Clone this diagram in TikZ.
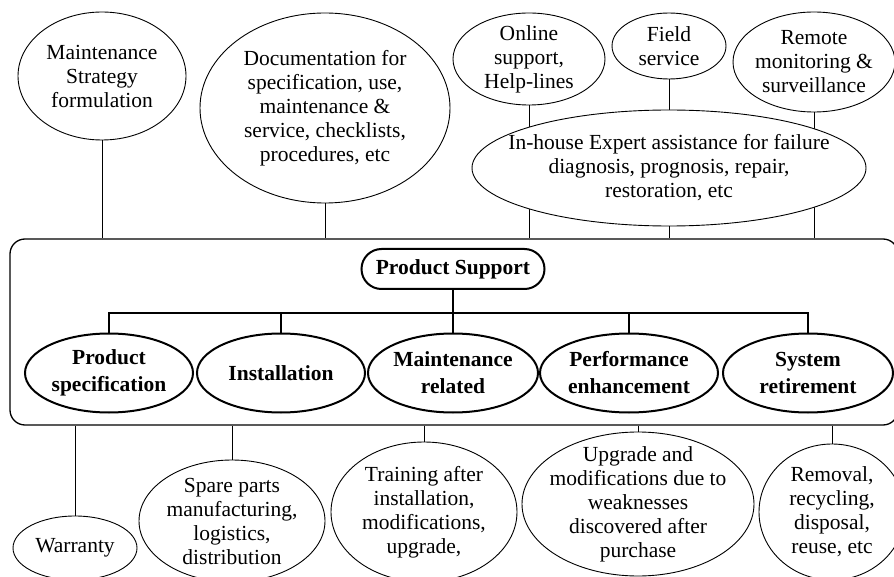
\documentclass[tikz,border=0pt]{standalone}
\usepackage{fontspec}
\setmainfont{Liberation Serif}
\usetikzlibrary{shapes.geometric,backgrounds}
\begin{document}
\begin{tikzpicture}[x=1pt,y=-1pt,
  base/.style={font=\fontsize{21.5}{24}\selectfont, align=center, inner sep=-40pt},
  oval/.style={base, ellipse, draw, fill=white, line width=0.9pt},
  topic/.style={base, ellipse, draw, fill=white, line width=2pt,
                font=\fontsize{21.5}{27}\selectfont\bfseries,
                minimum width=#1, minimum height=79pt},
  link/.style={line width=1pt},
  bus/.style={line width=2.4pt}]
\useasboundingbox (0,0) rectangle (894,577);
\clip (0,0) rectangle (894,577);

% top row
\node[oval, minimum width=168pt, minimum height=128pt] (ms) at (102,76) {Maintenance\\Strategy\\formulation};
\node[oval, minimum width=250pt, minimum height=190pt] (doc) at (325,108) {Documentation for\\specification, use,\\maintenance \&\\service, checklists,\\procedures, etc};
\node[oval, minimum width=152pt, minimum height=92pt] (onl) at (529,59) {Online\\support,\\Help-lines};
\node[oval, minimum width=114pt, minimum height=66pt] (fld) at (669,46) {Field\\service};
\node[oval, minimum width=162pt, minimum height=100pt] (rem) at (814,62) {Remote\\monitoring \&\\surveillance};
\node[oval, minimum width=394pt, minimum height=116pt] (inh) at (669,168) {In-house Expert assistance for failure\\diagnosis, prognosis, repair,\\restoration, etc};

% central box
\node[draw, rounded corners=15pt, line width=1.3pt, minimum width=888pt, minimum height=186pt, inner sep=0pt] (box) at (454,332) {};
\node[draw, fill=white, rectangle, rounded corners=20pt, line width=2pt, minimum width=183pt, minimum height=40pt, inner sep=0pt,
      font=\fontsize{21.5}{24}\selectfont\bfseries] (ps) at (453,269) {Product Support};
\coordinate (busc) at (453,313);
\node[topic=168pt] (l1) at (109,373) {Product\\specification};
\node[topic=168pt] (l2) at (281,373) {Installation};
\node[topic=170pt] (l3) at (453,373) {Maintenance\\related};
\node[topic=178pt] (l4) at (629,373) {Performance\\enhancement};
\node[topic=170pt] (l5) at (808,373) {System\\retirement};

% bottom row
\node[oval, minimum width=124pt, minimum height=64pt] (war) at (75,548) {Warranty};
\node[oval, minimum width=186pt, minimum height=122pt] (spa) at (232,521) {Spare parts\\manufacturing,\\logistics,\\distribution};
\node[oval, minimum width=186pt, minimum height=140pt] (tra) at (424,512) {Training after\\installation,\\modifications,\\upgrade,};
\node[oval, minimum width=232pt, minimum height=144pt] (upg) at (638,504) {Upgrade and\\modifications due to\\weaknesses\\discovered after\\purchase};
\node[oval, minimum width=146pt, minimum height=136pt] (rmv) at (832,512) {Removal,\\recycling,\\disposal,\\reuse, etc};

\begin{scope}[on background layer]
  \draw[link] (ms.south) -- (ms.south |- box.north);
  \draw[link] (doc.south) -- (doc.south |- box.north);
  \draw[link] (onl.south) -- (onl.south |- box.north);
  \draw[link] (fld.south) -- (fld.south |- box.north);
  \draw[link] (rem.south) -- (rem.south |- box.north);
  \draw[link] (war.north) -- (war.north |- box.south);
  \draw[link] (spa.north) -- (spa.north |- box.south);
  \draw[link] (tra.north) -- (tra.north |- box.south);
  \draw[link] (upg.north) -- (upg.north |- box.south);
  \draw[link] (rmv.north) -- (rmv.north |- box.south);
  \draw[bus] (ps.south) -- (l3.north);
  \draw[bus] (l1.north) |- (busc) -| (l5.north);
  \draw[bus] (l2.north) -- (l2.north |- busc);
  \draw[bus] (l4.north) -- (l4.north |- busc);
\end{scope}
\end{tikzpicture}
\end{document}
